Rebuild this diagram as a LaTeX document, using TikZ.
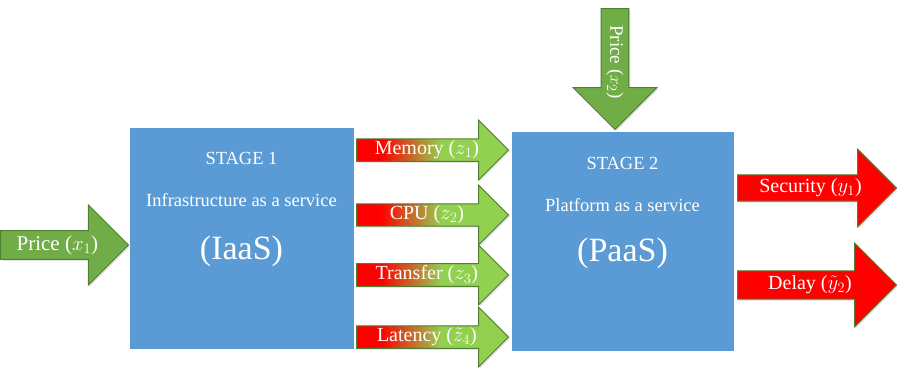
\documentclass[tikz,border=0pt]{standalone}
\usepackage{fontspec}
\setmainfont{Liberation Serif}
\usetikzlibrary{shapes.arrows,shadows}
\definecolor{stageblue}{HTML}{5B9BD5}
\definecolor{pricegreen}{HTML}{70AD47}
\definecolor{midgreen}{HTML}{92D050}
\definecolor{edgegreen}{HTML}{507E32}
\definecolor{arrowred}{HTML}{FF0000}
\pgfdeclarehorizontalshading{redtogreen}{100bp}{color(0bp)=(arrowred); color(33bp)=(arrowred); color(53bp)=(midgreen); color(100bp)=(midgreen)}

\begin{document}
\begin{tikzpicture}[x=1pt, y=-1pt,
	stage/.style={rectangle, fill=stageblue, draw=white, line width=3pt, drop shadow={shadow xshift=2pt, shadow yshift=-2pt, opacity=0.35}},
	stagetext/.style={text=white, font=\fontsize{18.5}{22}\selectfont},
	stagebig/.style={text=white, font=\fontsize{34}{40}\selectfont},
	blockarrow/.style={single arrow, draw=edgegreen, line width=1pt, inner sep=0pt, text=white, font=\fontsize{20}{24}\selectfont, drop shadow={shadow xshift=1.5pt, shadow yshift=-1.5pt, opacity=0.2}},
	pricearrow/.style={blockarrow, fill=pricegreen},
	linkarrow/.style={blockarrow, shading=redtogreen},
	outarrow/.style={blockarrow, fill=arrowred}]
	\useasboundingbox (0,0) rectangle (897,367);
	% the two stages
	\node[stage, minimum width=227pt, minimum height=224pt] at (241.5,238) (iaas) {};
	\node[stage, minimum width=225pt, minimum height=222pt] at (622.5,241) (paas) {};

	\node[stagetext] at ([yshift=-34pt]iaas.north) (iaas_title) {STAGE 1};
	\node[stagetext] at ([yshift=-76pt]iaas.north) (iaas_name) {Infrastructure as a service};
	\node[stagebig] at ([yshift=-127pt]iaas.north) (iaas_short) {(IaaS)};
	\node[stagetext] at ([yshift=-35pt]paas.north) (paas_title) {STAGE 2};
	\node[stagetext] at ([yshift=-77pt]paas.north) (paas_name) {Platform as a service};
	\node[stagebig] at ([yshift=-125pt]paas.north) (paas_short) {(PaaS)};

	% inputs
	\node[pricearrow, anchor=tail, minimum height=128pt, minimum width=80pt, single arrow head extend=18pt, font=\fontsize{21}{24}\selectfont] at (0,245) (price1) {Price ($x_1$)};
	\node[pricearrow, anchor=tail, rotate=-90, minimum height=121pt, minimum width=84pt, single arrow head extend=18.5pt, font=\fontsize{19}{22}\selectfont] at (615,8) (price2) {Price ($x_2$)};

	% links between the stages
	\node[linkarrow, anchor=tail, minimum height=152pt, minimum width=60pt, single arrow head extend=16pt] at (356,150) (memory) {Memory ($z_1$)};
	\node[linkarrow, anchor=tail, minimum height=152pt, minimum width=60pt, single arrow head extend=16pt] at (356,215) (cpu) {CPU ($z_2$)};
	\node[linkarrow, anchor=tail, minimum height=152pt, minimum width=60pt, single arrow head extend=16pt] at (356,275) (transfer) {Transfer ($z_3$)};
	\node[linkarrow, anchor=tail, minimum height=152pt, minimum width=60pt, single arrow head extend=16pt] at (356,337) (latency) {Latency ($\tilde{z}_4$)};

	% outputs
	\node[outarrow, anchor=tail, minimum height=159pt, minimum width=78pt, single arrow head extend=19pt] at (737,188) (security) {Security ($y_1$)};
	\node[outarrow, anchor=tail, minimum height=159pt, minimum width=84pt, single arrow head extend=19pt] at (737,285) (delay) {Delay ($\tilde{y}_2$)};
\end{tikzpicture}
\end{document}
